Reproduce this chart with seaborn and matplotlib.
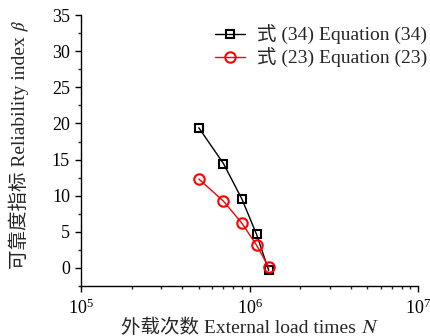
import matplotlib
matplotlib.use("Agg")
import matplotlib.pyplot as plt
import seaborn as sns
import pandas as pd
import numpy as np

# Data
n_eq34 = [5.0e5, 7.0e5, 9.0e5, 1.1e6, 1.3e6]
beta_eq34 = [19.4, 14.45, 9.55, 4.65, -0.35]
n_eq23 = [5.0e5, 7.0e5, 9.0e5, 1.1e6, 1.3e6]
beta_eq23 = [12.3, 9.25, 6.2, 3.15, 0.1]
label_eq34 = "式 (34) Equation (34)"
label_eq23 = "式 (23) Equation (23)"
x_label = "外载次数 External load times \U0001D441"
y_label = "可靠度指标 Reliability index \U0001D6FD"

sns.set_style("ticks")
plt.rcParams['font.family'] = ['Liberation Serif', 'Noto Sans CJK SC', 'STIXGeneral', 'DejaVu Sans']
plt.rcParams['mathtext.fontset'] = 'stix'
plt.rcParams['xtick.direction'] = 'out'
plt.rcParams['ytick.direction'] = 'out'

fig = plt.figure(figsize=(4.31, 3.36), dpi=100)
ax = fig.add_axes([0.188, 0.149, 0.782, 0.806])

df34 = pd.DataFrame({"N": n_eq34, "beta": beta_eq34})
df23 = pd.DataFrame({"N": n_eq23, "beta": beta_eq23})

sns.lineplot(data=df34, x="N", y="beta", ax=ax, color="black", lw=1,
             marker="s", markersize=6, markerfacecolor="none",
             markeredgecolor="black", markeredgewidth=1.5, label=label_eq34)
sns.lineplot(data=df23, x="N", y="beta", ax=ax, color="red", lw=1,
             marker="o", markersize=7.5, markerfacecolor="none",
             markeredgecolor="red", markeredgewidth=1.5, label=label_eq23)

ax.set_xscale("log")
ax.set_xlim(1e5, 1e7)
ax.set_ylim(-2.5, 35)
ax.set_yticks(np.arange(0, 36, 5))
ax.set_yticks(np.arange(-2.5, 35.1, 2.5), minor=True)
ax.tick_params(axis='both', which='major', labelsize=13, length=4, width=1, colors='black')
ax.tick_params(axis='both', which='minor', length=2.5, width=1)
ax.tick_params(axis='x', which='major', pad=5)
ax.tick_params(axis='y', which='major', pad=4)
for s in ['top', 'right']:
    ax.spines[s].set_visible(False)
for s in ['left', 'bottom']:
    ax.spines[s].set_linewidth(1)
    ax.spines[s].set_color('black')

ax.set_xlabel(x_label, fontsize=14)
ax.set_ylabel(y_label, fontsize=14)
ax.xaxis.set_label_coords(0.5, -0.119)
ax.yaxis.set_label_coords(-0.153, 0.52)

leg = ax.legend(loc="upper right", bbox_to_anchor=(1.05, 0.993), frameon=False, fontsize=14,
                handlelength=1.55, handletextpad=0.6, borderaxespad=0.0, labelspacing=0.15)

fig.savefig("out.png", dpi=100)
